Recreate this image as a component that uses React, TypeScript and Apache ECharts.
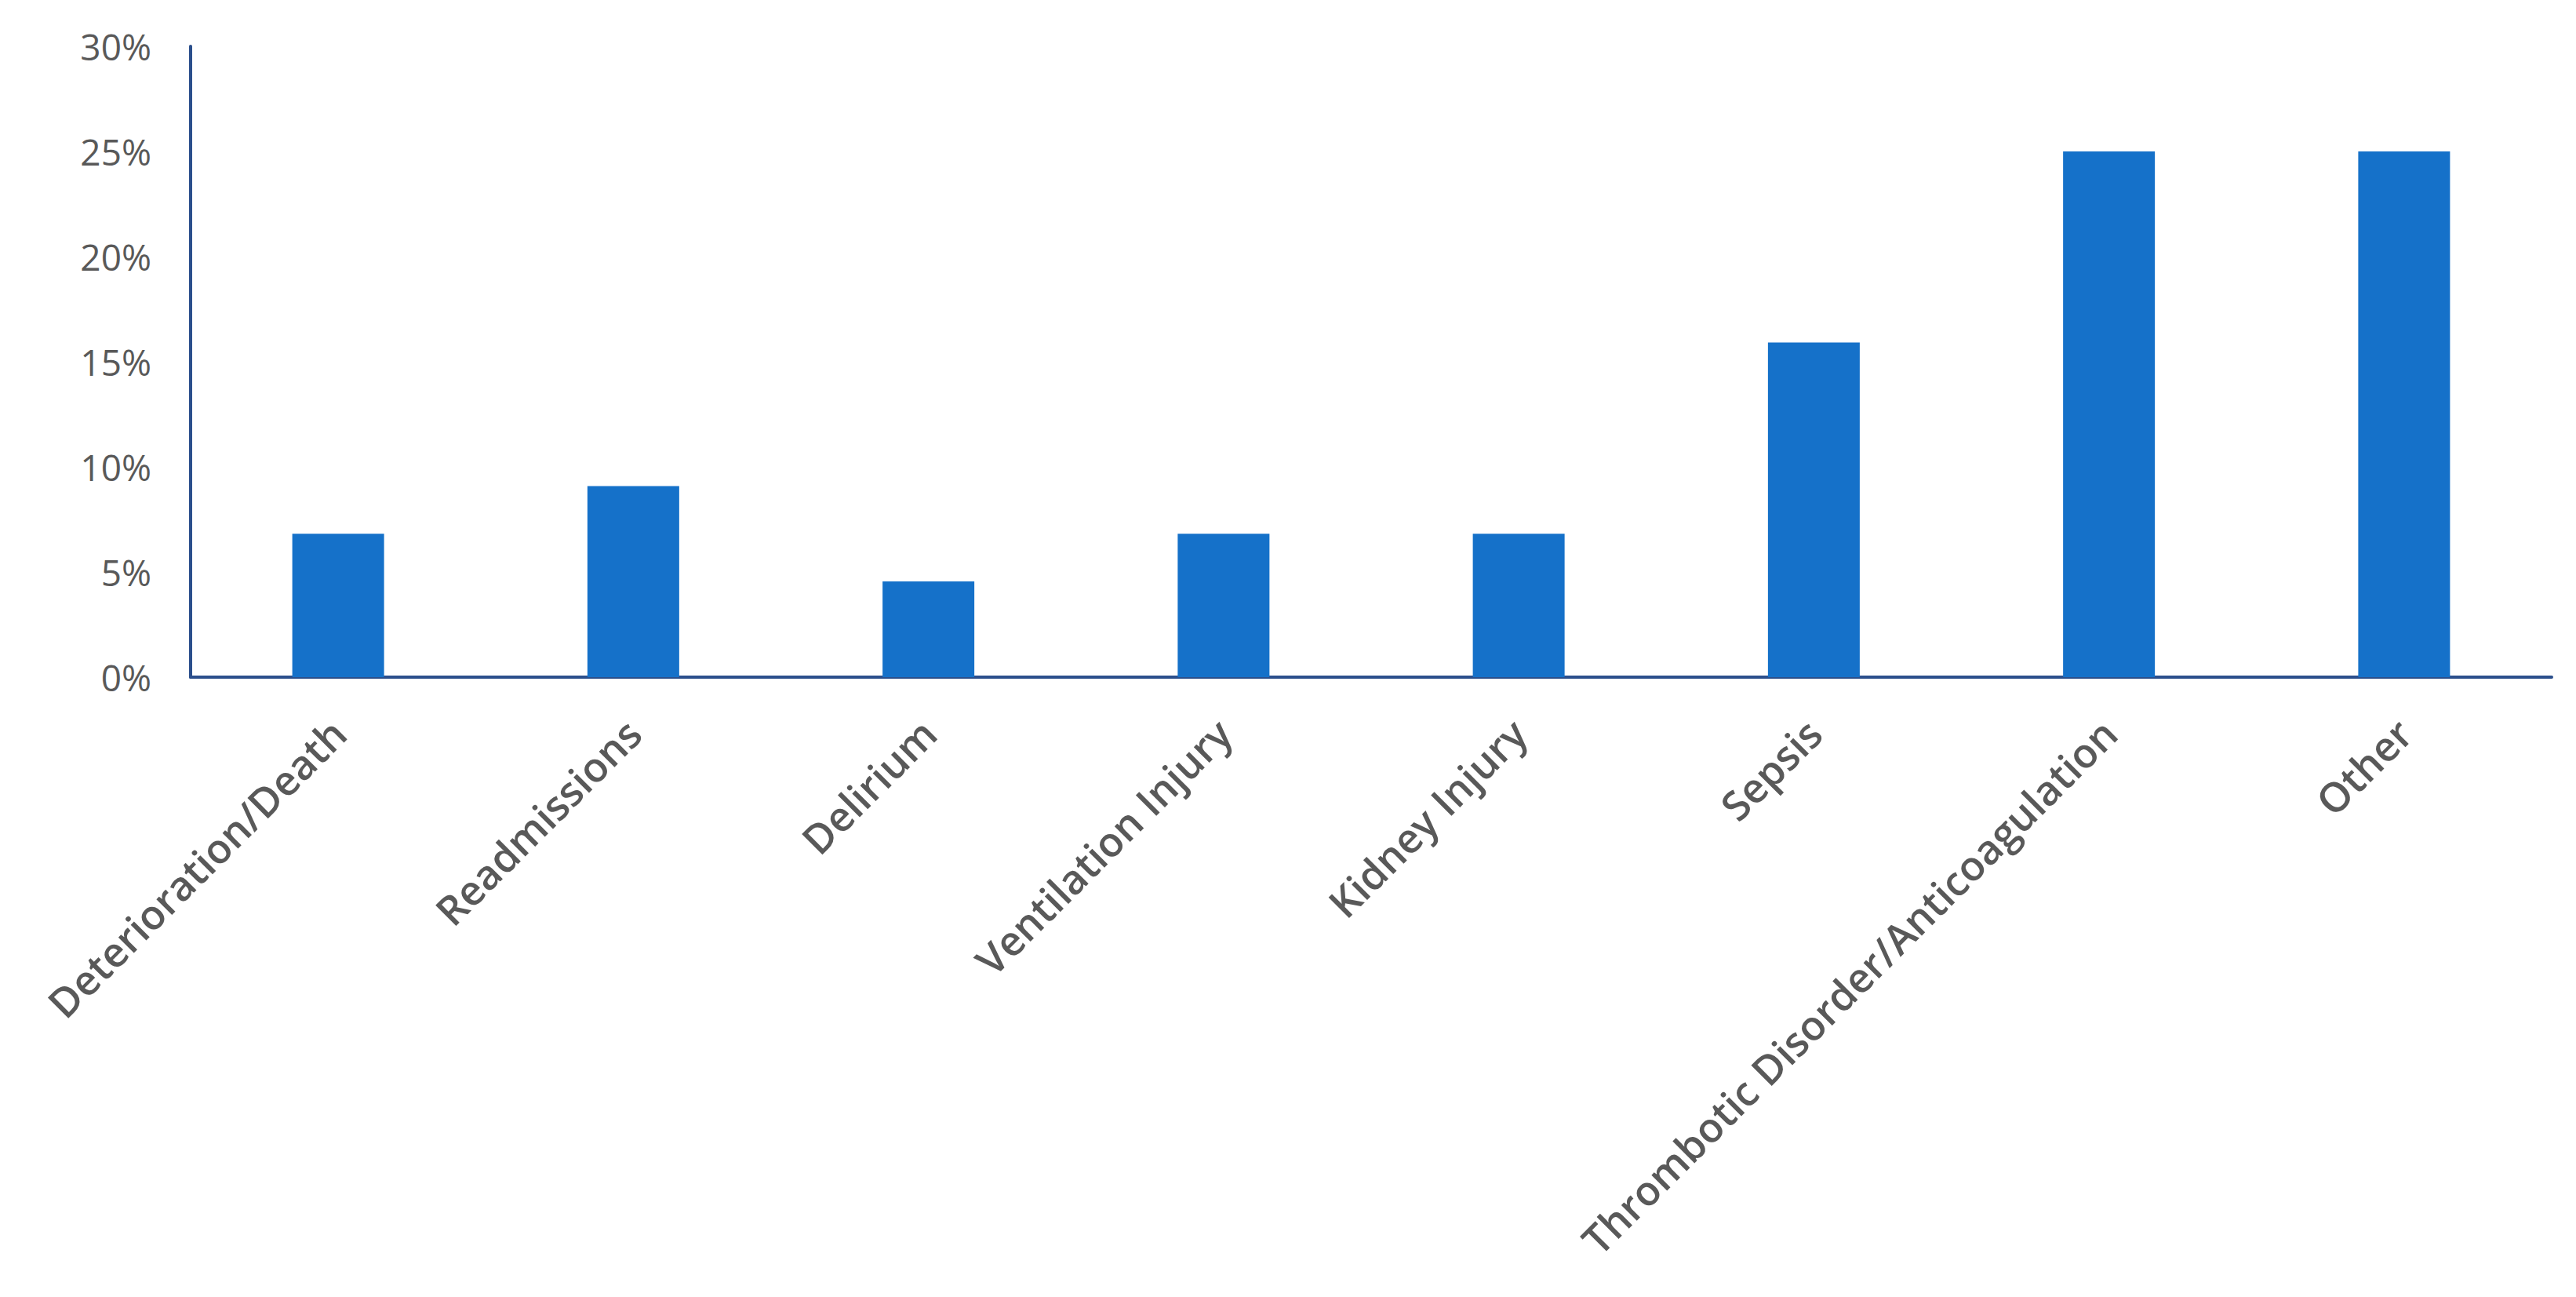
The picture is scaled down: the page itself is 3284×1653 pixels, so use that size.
import React, { useEffect, useRef } from "react";
import * as echarts from "echarts";

const categories = [
  "Deterioration/Death",
  "Readmissions",
  "Delirium",
  "Ventilation Injury",
  "Kidney Injury",
  "Sepsis",
  "Thrombotic Disorder/Anticoagulation",
  "Other",
];
const values = [6.82, 9.09, 4.55, 6.82, 6.82, 15.91, 25.0, 25.0];
const yTicks = { min: 0, max: 30, interval: 5 };

export default function App() {
  const ref = useRef<HTMLDivElement>(null);
  useEffect(() => {
    const chart = echarts.init(ref.current!, null, { renderer: "svg" });
    chart.setOption({
      animation: false,
      backgroundColor: "#ffffff",
      grid: { left: 243, right: 31, top: 59, bottom: 790, containLabel: false },
      xAxis: {
        type: "category",
        data: categories,
        axisLine: { show: true, lineStyle: { color: "#2B4F8C", width: 4 } },
        axisTick: { show: false },
        axisLabel: {
          rotate: 45,
          interval: 0,
          margin: 62,
          color: "#595959",
          fontFamily: "Open Sans",
          fontWeight: 600,
          fontSize: 52,
        },
      },
      yAxis: {
        type: "value",
        min: yTicks.min,
        max: yTicks.max,
        interval: yTicks.interval,
        splitLine: { show: false },
        axisLine: { show: true, lineStyle: { color: "#2B4F8C", width: 4 } },
        axisTick: { show: false },
        axisLabel: {
          formatter: "{value}%",
          margin: 50,
          color: "#595959",
          fontFamily: "Open Sans",
          fontSize: 46,
        },
      },
      series: [
        {
          type: "bar",
          data: values,
          barWidth: 117,
          itemStyle: { color: "#1571C9" },
        },
      ],
    });
    return () => chart.dispose();
  }, []);
  return (
    <div
      ref={ref}
      style={{ position: "absolute", left: 0, top: 0, width: 3284, height: 1653 }}
    />
  );
}
